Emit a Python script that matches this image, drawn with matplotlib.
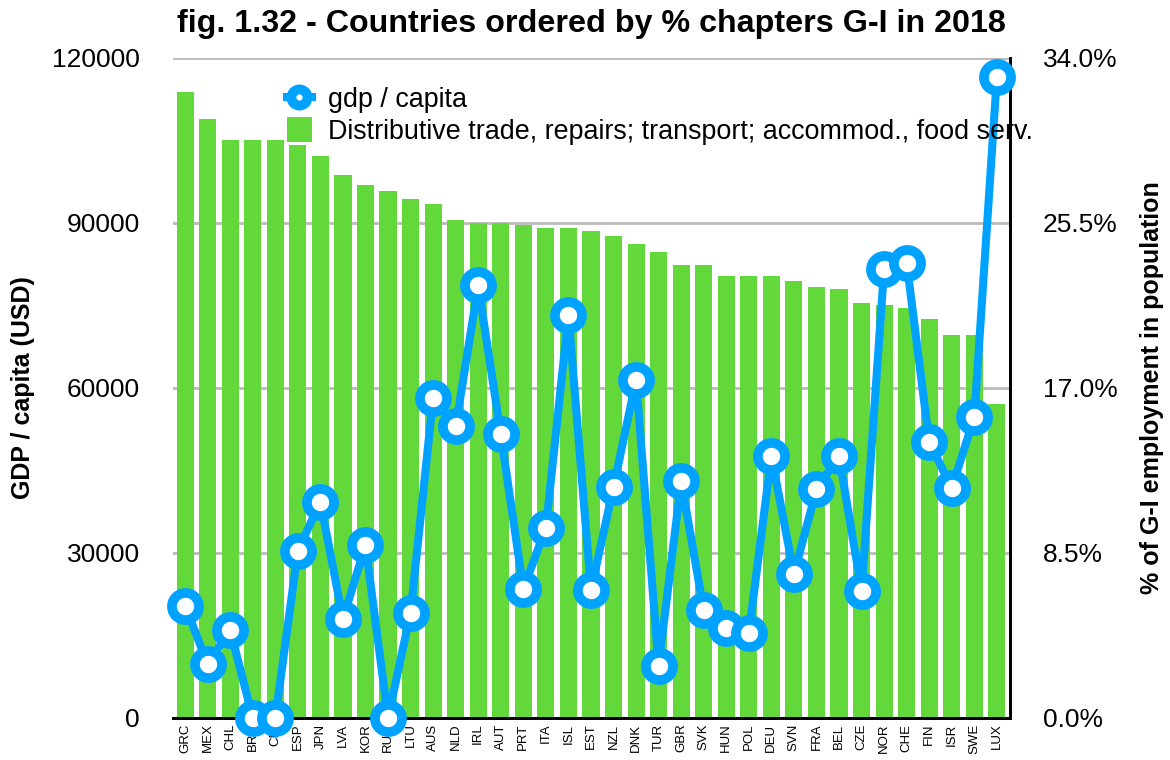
import numpy as np
import matplotlib
matplotlib.use('Agg')
from matplotlib import pyplot as plt

plt.rcParams['font.family'] = ['Liberation Sans', 'DejaVu Sans']

# 国名(G-I比率の降順)
countries = ['GRC', 'MEX', 'CHL', 'BRA', 'CRI', 'ESP', 'JPN', 'LVA', 'KOR', 'RUS',
             'LTU', 'AUS', 'NLD', 'IRL', 'AUT', 'PRT', 'ITA', 'ISL', 'EST', 'NZL',
             'DNK', 'TUR', 'GBR', 'SVK', 'HUN', 'POL', 'DEU', 'SVN', 'FRA', 'BEL',
             'CZE', 'NOR', 'CHE', 'FIN', 'ISR', 'SWE', 'LUX']

# G-I雇用比率(%)
gi_share = [32.25, 30.86, 29.78, 29.78, 29.78, 29.52, 28.95, 27.97, 27.46, 27.15,
            26.74, 26.48, 25.66, 25.50, 25.50, 25.40, 25.24, 25.24, 25.09, 24.83,
            24.42, 24.00, 23.34, 23.34, 22.77, 22.77, 22.77, 22.51, 22.20, 22.10,
            21.38, 21.28, 21.14, 20.56, 19.73, 19.73, 16.20]

# 一人当たりGDP(USD)
gdp_capita = [20400, 9800, 16000, 0, 0, 30400, 39300, 18000, 31400, 0,
              19150, 58250, 53000, 78650, 51600, 23450, 34550, 73300, 23300, 42000,
              61400, 9500, 43050, 19600, 16300, 15400, 47650, 26150, 41550, 47650,
              23150, 81700, 82800, 50200, 41800, 54700, 116500]

left_ticks = [0, 30000, 60000, 90000, 120000]
right_ticks = [0, 8.5, 17, 25.5, 34]

blue = '#00A2FF'
green = '#63D83A'

fig = plt.figure(figsize=(11.7, 7.6), dpi=100)
ax = fig.add_axes([0.148, 0.0553, 0.715, 0.8684])
ax2 = ax.twinx()

x = np.arange(len(countries))

# 棒グラフ(右軸)
ax2.bar(x, gi_share, width=0.76, color=green, zorder=2)
ax2.set_ylim(0, 34)
ax2.set_yticks(right_ticks)
ax2.set_yticklabels(['%.1f%%' % v for v in right_ticks])
ax2.yaxis.grid(True, color='#BBBBBB', linewidth=2, zorder=0)
ax2.set_axisbelow(True)
ax2.set_ylabel('% of G-I employment in population', fontsize=18, fontweight='bold', labelpad=16)

# 折れ線(左軸)
line, = ax.plot(x, gdp_capita, color=blue, linewidth=5.8, marker='o', markersize=19.5,
                markerfacecolor='white', markeredgecolor=blue, markeredgewidth=7,
                clip_on=False, zorder=5)
ax.set_ylim(0, 120000)
ax.set_yticks(left_ticks)
ax.set_ylabel('GDP / capita (USD)', fontsize=18, fontweight='bold', labelpad=12)
ax.set_zorder(ax2.get_zorder() + 1)
ax.patch.set_visible(False)

ax.set_xlim(-0.53, 36.57)
ax.set_xticks(x)
ax.set_xticklabels(countries, rotation=90, fontsize=9.5)

for a in (ax, ax2):
    a.tick_params(length=0, labelsize=19)
    a.spines['top'].set_visible(False)
    a.spines['left'].set_visible(False)
    a.spines['bottom'].set_linewidth(2)
    a.spines['right'].set_linewidth(2)
ax.tick_params(axis='x', labelsize=9.5, pad=4)
ax.tick_params(axis='y', pad=24)
ax2.tick_params(axis='y', pad=24)

handles = [line, ax2.patches[0]]
labels = ['gdp / capita', 'Distributive trade, repairs; transport; accommod., food serv.']
ax.legend(handles, labels, loc='upper left', bbox_to_anchor=(0.136, 0.958), frameon=False,
          fontsize=19.4, borderaxespad=0, borderpad=0, handlelength=0.92, handleheight=1.05,
          handletextpad=0.6, labelspacing=0.15, markerscale=0.6)

plt.title('fig. 1.32 - Countries ordered by % chapters G-I in 2018', fontsize=23.2,
          fontweight='bold', pad=19)

plt.savefig('out.png', dpi=100)
